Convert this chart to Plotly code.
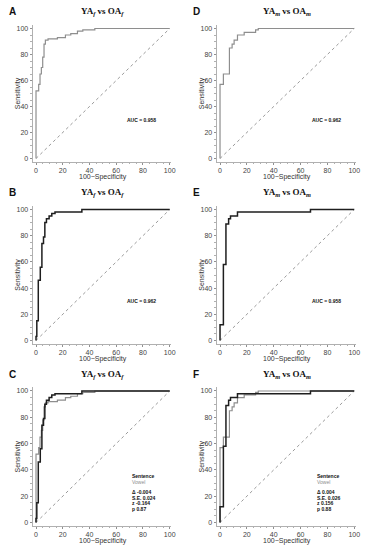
import plotly.graph_objects as go

# ---------------- data (100-Specificity, Sensitivity) ----------------
vowel_f_x = [0, 0, 2, 2, 3, 3, 4, 4, 5, 5, 6, 6, 7, 7, 9, 9, 16, 16, 22, 22, 26, 26, 31, 31, 35, 35, 44, 44, 100]
vowel_f_y = [0, 52, 52, 57, 57, 65, 65, 70, 70, 78, 78, 88, 88, 91, 91, 92, 92, 93, 93, 95, 95, 96, 96, 98, 98, 99, 99, 100, 100]

vowel_m_x = [0, 0, 2.5, 2.5, 7, 7, 9, 9, 10.5, 10.5, 13, 13, 18, 18, 26.5, 26.5, 28.5, 28.5, 100]
vowel_m_y = [0, 57, 57, 65, 65, 85, 85, 88, 88, 91, 91, 95, 95, 97, 97, 99, 99, 100, 100]

sent_f_x = [0, 0, 0.6, 0.6, 1.7, 1.7, 3.2, 3.2, 4.4, 4.4, 5.6, 5.6, 6.6, 6.6, 7.8, 7.8, 9.8, 9.8, 11.8, 11.8, 14.2, 14.2, 34.3, 34.3, 100]
sent_f_y = [0, 3, 3, 15, 15, 46, 46, 56, 56, 74, 74, 79, 79, 90, 90, 93, 93, 95, 95, 97, 97, 98, 98, 100, 100]

sent_m_x = [0, 0, 2.5, 2.5, 4.4, 4.4, 6.4, 6.4, 7.8, 7.8, 13, 13, 67.4, 67.4, 100]
sent_m_y = [0, 12, 12, 58, 58, 89, 89, 93, 93, 95, 95, 98, 98, 100, 100]

diag_x = [0, 100]
diag_y = [0, 100]

tick_vals = [0, 20, 40, 60, 80, 100]
tick_text = ["0", "20", "40", "60", "80", "100"]

auc_A = "AUC = 0.958"
auc_D = "AUC = 0.962"
auc_B = "AUC = 0.962"
auc_E = "AUC = 0.958"
stats_C = ["Δ -0.004", "S.E. 0.024", "z -0.164", "p 0.87"]
stats_F = ["Δ 0.004", "S.E. 0.026", "z 0.156", "p 0.88"]

title_f = "<b>YA<sub><i>f</i></sub> vs OA<sub><i>f</i></sub></b>"
title_m = "<b>YA<sub><i>m</i></sub> vs OA<sub><i>m</i></sub></b>"

W, H = 376, 550
GRAY = "#8e8e8e"
BLACK = "#1e1e1e"

# layout in pixels
cols = [(36.5, 172.0), (223.0, 359.0)]
rows = [(28.5, 158.5), (209.5, 340.5), (391.0, 522.5)]
XR = [-2.5, 101]
YR = [-2.5, 103]

fig = go.Figure()

panels = [
    (0, 0, "A", title_f, [("v", vowel_f_x, vowel_f_y)], auc_A),
    (0, 1, "D", title_m, [("v", vowel_m_x, vowel_m_y)], auc_D),
    (1, 0, "B", title_f, [("s", sent_f_x, sent_f_y)], auc_B),
    (1, 1, "E", title_m, [("s", sent_m_x, sent_m_y)], auc_E),
    (2, 0, "C", title_f, [("v", vowel_f_x, vowel_f_y), ("s", sent_f_x, sent_f_y)], stats_C),
    (2, 1, "F", title_m, [("v", vowel_m_x, vowel_m_y), ("s", sent_m_x, sent_m_y)], stats_F),
]

annotations = []
for i, (r, c, letter, title, curves, info) in enumerate(panels):
    n = i + 1
    xa = "x" if n == 1 else f"x{n}"
    ya = "y" if n == 1 else f"y{n}"
    x0p, x100p = cols[c]
    y100p, y0p = rows[r]
    sx = (x100p - x0p) / 100.0
    sy = (y0p - y100p) / 100.0
    left = x0p + (XR[0]) * sx
    right = x100p + (XR[1] - 100) * sx
    top = y100p - (YR[1] - 100) * sy
    bottom = y0p - (YR[0]) * sy
    xdom = [left / W, right / W]
    ydom = [1 - bottom / H, 1 - top / H]

    axis_common = dict(
        showgrid=False, zeroline=False, showline=True,
        linecolor="#b0b0b0", linewidth=1, ticks="outside", ticklen=2,
        tickcolor="#909090", tickwidth=1,
        tickvals=tick_vals, ticktext=tick_text,
        tickfont=dict(family="Arial, Liberation Sans", size=7, color="#444"),
        minor=dict(ticks="outside", ticklen=1.5, tickcolor="#b0b0b0", dtick=5),
        fixedrange=True,
    )
    xdict = dict(axis_common, range=XR, domain=xdom, anchor=ya)
    ydict = dict(axis_common, range=YR, domain=ydom, anchor=xa)
    fig.update_layout(**{("xaxis" if n == 1 else f"xaxis{n}"): xdict,
                         ("yaxis" if n == 1 else f"yaxis{n}"): ydict})

    fig.add_trace(go.Scatter(x=diag_x, y=diag_y, mode="lines", xaxis=xa, yaxis=ya,
                             line=dict(color="#9a9a9a", width=1, dash="dot"),
                             showlegend=False, hoverinfo="skip"))
    for kind, cx, cy in curves:
        if kind == "v":
            ln = dict(color=GRAY, width=1.2)
        else:
            ln = dict(color=BLACK, width=1.5)
        fig.add_trace(go.Scatter(x=cx, y=cy, mode="lines", xaxis=xa, yaxis=ya,
                                 line=ln, showlegend=False))

    annotations.append(dict(text=f"<b>{letter}</b>", xref="paper", yref="paper",
                            x=(x0p - 29) / W, y=1 - (y100p - 17) / H,
                            xanchor="left", yanchor="middle", showarrow=False,
                            font=dict(family="Arial, Liberation Sans", size=10, color="#111")))
    annotations.append(dict(text=title, xref="paper", yref="paper",
                            x=(x0p + x100p) / 2 / W, y=1 - (y100p - 17) / H,
                            xanchor="center", yanchor="middle", showarrow=False,
                            font=dict(family="Liberation Serif, Times New Roman", size=9, color="#111")))
    annotations.append(dict(text="Sensitivity", xref="paper", yref="paper",
                            x=(x0p - 18.5) / W, y=1 - ((y100p + y0p) / 2) / H,
                            textangle=-90, xanchor="center", yanchor="middle", showarrow=False,
                            font=dict(family="Arial, Liberation Sans", size=7, color="#333")))
    annotations.append(dict(text="100−Specificity", xref="paper", yref="paper",
                            x=(x0p + x100p) / 2 / W, y=1 - (y0p + 18.5) / H,
                            xanchor="center", yanchor="middle", showarrow=False,
                            font=dict(family="Arial, Liberation Sans", size=7, color="#333")))
    if isinstance(info, str):
        annotations.append(dict(text=f"<b>{info}</b>", xref=xa, yref=ya,
                                x=79, y=30, xanchor="center", yanchor="middle", showarrow=False,
                                font=dict(family="Arial, Liberation Sans", size=5, color="#111")))
    else:
        lines = [("<b>Sentence</b>", "#111", 35), ("Vowel", GRAY, 30.5)]
        ys = [23.5, 19, 14.5, 10]
        for t, yy in zip(info, ys):
            lines.append((f"<b>{t}</b>", "#111", yy))
        for t, col, yy in lines:
            annotations.append(dict(text=t, xref=xa, yref=ya, x=70.5, y=yy,
                                    xanchor="left", yanchor="middle", showarrow=False,
                                    font=dict(family="Arial, Liberation Sans", size=5, color=col)))

fig.update_layout(width=W, height=H, margin=dict(l=0, r=0, t=0, b=0),
                  paper_bgcolor="white", plot_bgcolor="white",
                  annotations=annotations, showlegend=False)

fig.write_html("out.html", config={"displayModeBar": False},
               post_script="document.body.style.margin='0';document.body.style.padding='0';")
